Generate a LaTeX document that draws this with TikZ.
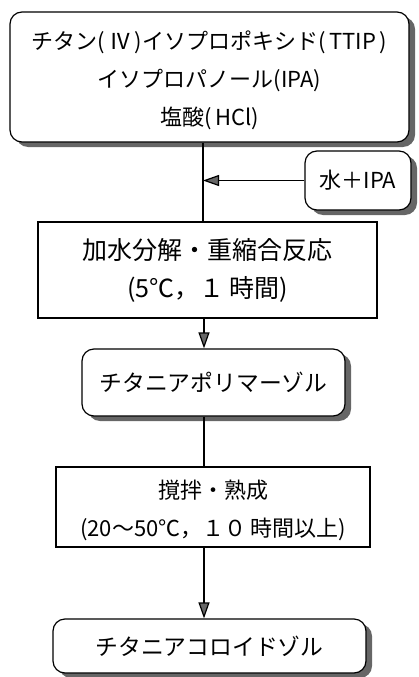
\documentclass[tikz,border=0pt]{standalone}
\usepackage{fontspec}
\setmainfont{Noto Sans CJK JP}
\usetikzlibrary{arrows.meta,shadows}
\begin{document}
\begin{tikzpicture}[x=1pt,y=-1pt,
  box/.style={draw, line width=1.2pt, fill=white, align=center, inner sep=0pt,
    font=\fontsize{22}{38}\selectfont},
  rbox/.style={box, rounded corners=12pt,
    drop shadow={shadow xshift=6pt, shadow yshift=-5pt, fill=black!60, opacity=1}},
  conn/.style={line width=1.2pt},
  arr/.style={conn, -{Triangle[length=16pt,width=11pt,fill=black!60]}}]
\useasboundingbox (0,0) rectangle (419,677);
\node[rbox, minimum width=399pt, minimum height=130pt, text depth=0pt] (top) at (209.5,77) {};
\node[font=\fontsize{22}{38}\selectfont, align=center, inner sep=0pt] (toptext) at (209.5,80)
  {チタン(\,Ⅳ\,)イソプロポキシド(\,TTIP\,)\\イソプロパノール(IPA)\\塩酸(\,HCl)};
\node[rbox, minimum width=106pt, minimum height=59pt] (water) at (358,180.5) {水＋IPA};
\node[box, minimum width=339pt, minimum height=96pt, font=\fontsize{25}{38}\selectfont] (hyd) at (207.5,270)
  {加水分解・重縮合反応\\(5℃，１\,時間)};
\node[rbox, minimum width=263pt, minimum height=67pt, font=\fontsize{22.8}{38}\selectfont] (poly) at (213.5,382.5) {チタニアポリマーゾル};
\node[box, minimum width=314pt, minimum height=80pt] (age) at (213,507) {};
\node[font=\fontsize{22}{38}\selectfont, align=center, inner sep=0pt] (agetext) at (213,510)
  {撹拌・熟成\\(20～50℃，１０\,時間以上)};
\node[rbox, minimum width=313pt, minimum height=54pt, font=\fontsize{22.8}{38}\selectfont] (coll) at (209.5,646) {チタニアコロイドゾル};
\draw[conn] (top.south -| 203,0) -- (hyd.north -| 203,0);
\coordinate (j) at (203,180.5);
\draw[arr] (water.west) -- (j);
\draw[arr] (hyd.south -| 204,0) -- (poly.north -| 204,0);
\draw[conn] (poly.south -| 204,0) -- (age.north -| 204,0);
\draw[arr] (age.south -| 204,0) -- (coll.north -| 204,0);
\end{tikzpicture}
\end{document}
